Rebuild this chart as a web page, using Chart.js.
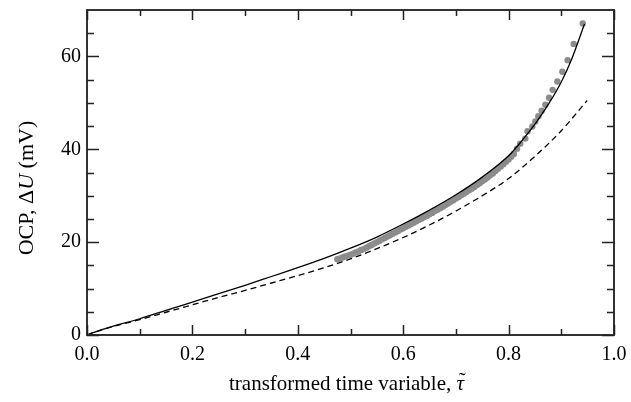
<!DOCTYPE html>
<html>
<head>
<meta charset="utf-8">
<script src="https://cdn.jsdelivr.net/npm/chart.js@4.4.1/dist/chart.umd.min.js"></script>
<style>
  html, body { margin: 0; padding: 0; background: #fff; }
  #wrap { width: 631px; height: 402px; }
</style>
</head>
<body>
<div id="wrap"><canvas id="c" width="631" height="402"></canvas></div>
<script>
// ---- data ----
const modelX = [0, 0.01, 0.02, 0.05, 0.1, 0.15, 0.2, 0.25, 0.3, 0.35, 0.4, 0.45, 0.5, 0.55, 0.6, 0.65, 0.7, 0.75, 0.8, 0.825, 0.85, 0.875, 0.9, 0.92, 0.944];
const modelY = [0, 0.45, 0.85, 1.9, 3.5, 5.3, 7.1, 8.9, 10.7, 12.6, 14.5, 16.5, 18.7, 21.1, 23.9, 26.9, 30.2, 34.0, 38.6, 41.8, 45.4, 49.6, 54.5, 59.5, 67.0];

const dashX = [0, 0.02, 0.05, 0.1, 0.15, 0.2, 0.25, 0.3, 0.35, 0.4, 0.45, 0.5, 0.55, 0.6, 0.65, 0.7, 0.75, 0.8, 0.85, 0.9, 0.949];
const dashY = [0, 0.8, 1.85, 3.3, 4.9, 6.5, 8.1, 9.6, 11.2, 12.8, 14.5, 16.4, 18.6, 21.0, 23.7, 26.7, 30.0, 33.7, 38.5, 44.0, 50.5];

const expX = [0.475, 0.48, 0.485, 0.49, 0.495, 0.50, 0.505, 0.51, 0.515, 0.52, 0.525, 0.53, 0.535, 0.54, 0.545, 0.55, 0.555, 0.56, 0.565, 0.57, 0.575, 0.58, 0.585, 0.59, 0.595, 0.60, 0.605, 0.61, 0.615, 0.62, 0.625, 0.63, 0.635, 0.64, 0.645, 0.65, 0.655, 0.66, 0.665, 0.67, 0.675, 0.68, 0.685, 0.69, 0.695, 0.70, 0.705, 0.71, 0.715, 0.72, 0.725, 0.73, 0.735, 0.74, 0.745, 0.75, 0.755, 0.76, 0.765, 0.77, 0.775, 0.78, 0.785, 0.79, 0.795, 0.80, 0.805, 0.81, 0.816, 0.822, 0.8317, 0.836, 0.845, 0.8507, 0.8564, 0.8627, 0.8697, 0.8767, 0.8836, 0.8925, 0.902, 0.912, 0.9235, 0.9407];
const expY = [16.3, 16.5, 16.7, 16.9, 17.1, 17.3, 17.5, 17.8, 18.0, 18.3, 18.5, 18.8, 19.1, 19.4, 19.7, 20.0, 20.3, 20.6, 20.9, 21.2, 21.5, 21.8, 22.1, 22.4, 22.7, 23.0, 23.3, 23.6, 23.9, 24.2, 24.5, 24.8, 25.1, 25.4, 25.7, 26.0, 26.3, 26.7, 27.0, 27.3, 27.6, 28.0, 28.3, 28.7, 29.0, 29.4, 29.7, 30.1, 30.4, 30.8, 31.2, 31.5, 31.9, 32.3, 32.7, 33.1, 33.5, 33.9, 34.4, 34.8, 35.3, 35.8, 36.3, 36.8, 37.3, 37.8, 38.4, 39.0, 40.1, 41.2, 42.3, 43.9, 44.9, 46.0, 47.1, 48.3, 49.6, 51.1, 52.8, 54.6, 56.7, 59.2, 62.7, 67.1];

const xMajorTicks = [0, 0.2, 0.4, 0.6, 0.8, 1.0];
const xMinorTicks = [0.1, 0.3, 0.5, 0.7, 0.9];
const yMajorTicks = [0, 20, 40, 60];
const yMinorTicks = [5, 10, 15, 25, 30, 35, 45, 50, 55, 65];

const xTitleParts = [["transformed time variable, ", "normal"], ["\u03C4", "tilde"]];
const yTitleParts = [["OCP, \u0394", "normal"], ["U", "italic"], [" (mV)", "normal"]];

const toPts = (xs, ys) => xs.map((x, i) => ({ x: x, y: ys[i] }));

const SERIF = '"Liberation Serif", "DejaVu Serif", serif';
const AXIS_COLOR = '#333';

function fontFor(style, size) {
  return (style === 'normal' ? '' : 'italic ') + size + 'px ' + SERIF;
}

function drawParts(ctx, parts, size) {
  let total = 0;
  const widths = parts.map(p => {
    ctx.font = fontFor(p[1], size);
    const w = ctx.measureText(p[0]).width;
    total += w;
    return w;
  });
  let x = -total / 2;
  parts.forEach((p, i) => {
    ctx.font = fontFor(p[1], size);
    ctx.fillText(p[0], x, 0);
    if (p[1] === 'tilde') {
      ctx.font = size + 'px ' + SERIF;
      const tw = ctx.measureText('\u02DC').width;
      ctx.fillText('\u02DC', x + widths[i] / 2 - tw / 2 + 2, -3);
    }
    x += widths[i];
  });
}

const framePlugin = {
  id: 'frame',
  afterDraw(chart) {
    const ctx = chart.ctx;
    const a = chart.chartArea;
    const xs = chart.scales.x, ys = chart.scales.y;
    ctx.save();
    ctx.strokeStyle = AXIS_COLOR;
    ctx.lineWidth = 2;
    ctx.strokeRect(a.left, a.top, a.right - a.left, a.bottom - a.top);
    ctx.lineWidth = 1.5;
    ctx.strokeStyle = '#222';
    ctx.beginPath();
    const xt = (v, len) => {
      const p = Math.round(xs.getPixelForValue(v)) + 0.5;
      ctx.moveTo(p, a.bottom); ctx.lineTo(p, a.bottom - len);
      ctx.moveTo(p, a.top); ctx.lineTo(p, a.top + len);
    };
    const yt = (v, len) => {
      const p = Math.round(ys.getPixelForValue(v)) + 0.5;
      ctx.moveTo(a.left, p); ctx.lineTo(a.left + len, p);
      ctx.moveTo(a.right, p); ctx.lineTo(a.right - len, p);
    };
    xMajorTicks.forEach(v => xt(v, 10));
    xMinorTicks.forEach(v => xt(v, 6));
    yMajorTicks.forEach(v => yt(v, 12));
    yMinorTicks.forEach(v => yt(v, 7));
    ctx.stroke();

    // axis titles
    ctx.fillStyle = '#000';
    ctx.textBaseline = 'alphabetic';
    ctx.textAlign = 'left';
    ctx.save();
    ctx.translate((a.left + a.right) / 2 - 4, 390);
    drawParts(ctx, xTitleParts, 21);
    ctx.restore();
    ctx.save();
    ctx.translate(33, 188);
    ctx.rotate(-Math.PI / 2);
    drawParts(ctx, yTitleParts, 22);
    ctx.restore();
    ctx.restore();
  }
};

new Chart(document.getElementById('c'), {
  type: 'scatter',
  data: {
    datasets: [
      {
        data: toPts(expX, expY),
        showLine: false,
        pointRadius: 3.2,
        pointBackgroundColor: '#8c8c8c',
        pointBorderWidth: 0,
        pointBorderColor: 'rgba(0,0,0,0)',
        order: 3
      },
      {
        data: toPts(modelX, modelY),
        showLine: true,
        borderColor: '#000',
        borderWidth: 1.3,
        pointRadius: 0,
        cubicInterpolationMode: 'monotone',
        order: 1
      },
      {
        data: toPts(dashX, dashY),
        showLine: true,
        borderColor: '#000',
        borderWidth: 1.3,
        borderDash: [6, 4],
        pointRadius: 0,
        cubicInterpolationMode: 'monotone',
        order: 2
      }
    ]
  },
  options: {
    responsive: false,
    animation: false,
    devicePixelRatio: 1,
    layout: { padding: { left: 0, top: 10, right: 17, bottom: 0 } },
    plugins: { legend: { display: false }, tooltip: { enabled: false } },
    scales: {
      x: {
        type: 'linear', min: 0, max: 1,
        afterFit(s) { s.height = 67; s.paddingLeft = 0; s.paddingRight = 0; },
        afterBuildTicks(s) { s.ticks = xMajorTicks.map(v => ({ value: v })); },
        grid: { display: false, drawTicks: false },
        border: { display: false },
        ticks: {
          color: '#000', padding: 8,
          font: { family: SERIF, size: 20 },
          callback: v => Number(v).toFixed(1),
          maxRotation: 0, autoSkip: false
        }
      },
      y: {
        type: 'linear', min: 0, max: 70,
        afterFit(s) { s.width = 87; s.paddingTop = 0; s.paddingBottom = 0; },
        afterBuildTicks(s) { s.ticks = yMajorTicks.map(v => ({ value: v })); },
        grid: { display: false, drawTicks: false },
        border: { display: false },
        ticks: {
          color: '#000', padding: 6,
          font: { family: SERIF, size: 20 },
          autoSkip: false
        }
      }
    }
  },
  plugins: [framePlugin]
});
</script>
</body>
</html>
